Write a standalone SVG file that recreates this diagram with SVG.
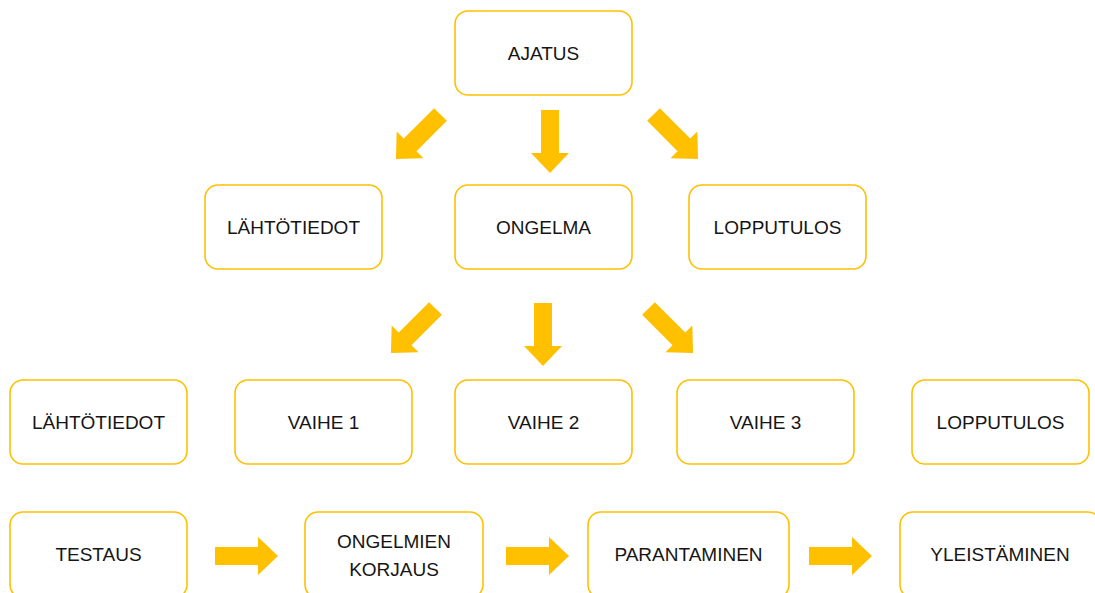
<svg xmlns="http://www.w3.org/2000/svg" xmlns:xlink="http://www.w3.org/1999/xlink" width="1095" height="593" viewBox="0 0 1095 593">
<style>
.box{fill:#fff;stroke:#FFC000;stroke-width:1.6}
.lbl{font-family:"Liberation Sans",Arial,sans-serif;font-size:19px;fill:#151515;text-anchor:middle;dominant-baseline:central}
.arr{fill:#FFC000}
</style>
<defs>
<path id="blk" d="M-9,0 H9 V43 H19 L0,63 L-19,43 H-9 Z"/>
</defs>
<rect width="1095" height="593" fill="#fff"/>
<g id="connectors">
<use xlink:href="#blk" class="arr" transform="translate(550,110)"/>
<use xlink:href="#blk" class="arr" transform="translate(440.5,114.5) rotate(45)"/>
<use xlink:href="#blk" class="arr" transform="translate(653.5,114.5) rotate(-45)"/>
<use xlink:href="#blk" class="arr" transform="translate(543,303)"/>
<use xlink:href="#blk" class="arr" transform="translate(435.5,308.5) rotate(45)"/>
<use xlink:href="#blk" class="arr" transform="translate(648.5,308.5) rotate(-45)"/>
<use xlink:href="#blk" class="arr" transform="translate(215,556) rotate(-90)"/>
<use xlink:href="#blk" class="arr" transform="translate(506,556) rotate(-90)"/>
<use xlink:href="#blk" class="arr" transform="translate(809,556) rotate(-90)"/>
</g>
<g id="ajatus"><rect class="box" x="455" y="11" width="177" height="84" rx="13"/><text class="lbl" x="543.5" y="53">AJATUS</text></g>
<g id="lahtotiedot1"><rect class="box" x="205" y="185" width="177" height="84" rx="13"/><text class="lbl" x="293.5" y="227">LÄHTÖTIEDOT</text></g>
<g id="ongelma"><rect class="box" x="455" y="185" width="177" height="84" rx="13"/><text class="lbl" x="543.5" y="227">ONGELMA</text></g>
<g id="lopputulos1"><rect class="box" x="689" y="185" width="177" height="84" rx="13"/><text class="lbl" x="777.5" y="227">LOPPUTULOS</text></g>
<g id="lahtotiedot2"><rect class="box" x="10" y="380" width="177" height="84" rx="13"/><text class="lbl" x="98.5" y="422">LÄHTÖTIEDOT</text></g>
<g id="vaihe1"><rect class="box" x="235" y="380" width="177" height="84" rx="13"/><text class="lbl" x="323.5" y="422">VAIHE 1</text></g>
<g id="vaihe2"><rect class="box" x="455" y="380" width="177" height="84" rx="13"/><text class="lbl" x="543.5" y="422">VAIHE 2</text></g>
<g id="vaihe3"><rect class="box" x="677" y="380" width="177" height="84" rx="13"/><text class="lbl" x="765.5" y="422">VAIHE 3</text></g>
<g id="lopputulos2"><rect class="box" x="912" y="380" width="177" height="84" rx="13"/><text class="lbl" x="1000.5" y="422">LOPPUTULOS</text></g>
<g id="testaus"><rect class="box" x="10" y="512" width="177" height="86" rx="13"/><text class="lbl" x="98.5" y="554">TESTAUS</text></g>
<g id="ongelmien-korjaus"><rect class="box" x="305" y="512" width="178" height="86" rx="13"/><text class="lbl" x="394" y="541">ONGELMIEN</text><text class="lbl" x="394" y="569">KORJAUS</text></g>
<g id="parantaminen"><rect class="box" x="588" y="512" width="201" height="86" rx="13"/><text class="lbl" x="688.5" y="554">PARANTAMINEN</text></g>
<g id="yleistaminen"><rect class="box" x="900" y="512" width="201" height="86" rx="13"/><text class="lbl" x="1000" y="554">YLEISTÄMINEN</text></g>
</svg>
